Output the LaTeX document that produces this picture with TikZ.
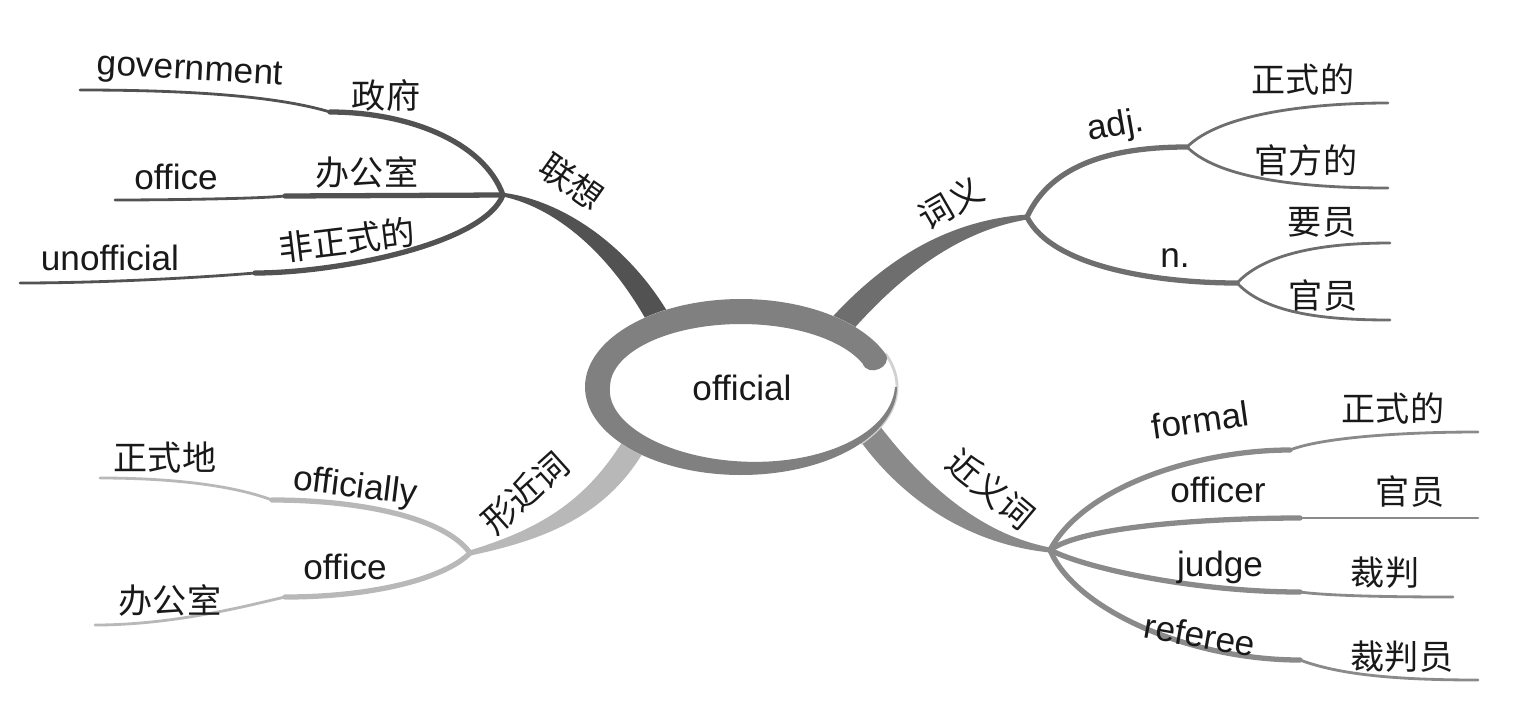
\documentclass[tikz,border=0pt]{standalone}
\usepackage{fontspec}
\setmainfont{Liberation Sans}
\newfontfamily\cjk{Noto Sans CJK SC}
\usepackage{tikz}

\colorlet{assoc}{black!68}
\colorlet{sense}{black!57}
\colorlet{synon}{black!46}
\colorlet{alike}{black!28}
\colorlet{ring}{black!50}

\begin{document}
\begin{tikzpicture}[
    x=0.01cm, y=-0.01cm,
    declare function={bw(\t)=25-23*max(0,\t-180)/180;},
    en/.style={font=\fontsize{10}{12}\selectfont, text=black!90, inner sep=0pt},
    zh/.style={font=\cjk\fontsize{9.7}{11}\selectfont, text=black!90, inner sep=0pt},
    twig/.style={line width=1.5pt, line cap=round},
    tip/.style={line width=0.8pt, line cap=round}
]
\useasboundingbox (0,0) rectangle (1513,700);

% Forks and ends
\coordinate (lxF) at (503,195);
\coordinate (govK) at (330,112);  \coordinate (govE) at (80,90);
\coordinate (offK) at (285,196);  \coordinate (offE) at (115,200);
\coordinate (unoK) at (255,273);  \coordinate (unoE) at (20,283);

\coordinate (cyF) at (1027,217);
\coordinate (adjF) at (1187,147);
\coordinate (adjA) at (1388,103); \coordinate (adjB) at (1388,188);
\coordinate (nF) at (1237,283);
\coordinate (nA) at (1390,243);   \coordinate (nB) at (1390,320);

\coordinate (jyF) at (1050,550);
\coordinate (forK) at (1290,450); \coordinate (forE) at (1478,432);
\coordinate (ofcK) at (1300,518); \coordinate (ofcE) at (1478,518);
\coordinate (jdgK) at (1300,592); \coordinate (jdgE) at (1453,597);
\coordinate (refK) at (1300,660); \coordinate (refE) at (1478,680);

\coordinate (xjF) at (470,553);
\coordinate (oflK) at (272,500);  \coordinate (oflE) at (100,478);
\coordinate (ofbK) at (285,597);  \coordinate (ofbE) at (95,625);

% Trunks
\fill[assoc] (505,193) .. controls (562,201) and (628,244) .. (670,316) -- (650,327) .. controls (612,256) and (558,209) .. (505,197) -- cycle;
\fill[sense] (826,324) .. controls (890,252) and (955,220) .. (1027,214.5) -- (1027,219.5) .. controls (965,230) and (905,268) .. (844,340) -- cycle;
\fill[synon] (876,421) .. controls (928,490) and (985,535) .. (1050,547.5) -- (1050,552.5) .. controls (975,545) and (905,505) .. (856,435) -- cycle;
\fill[alike] (624,439) .. controls (585,503) and (537,530) .. (469,550.6) -- (471,555.4) .. controls (543,540) and (605,517) .. (644,451) -- cycle;

% Centre ring
\fill[white] (741,387) ellipse [x radius=1.56cm, y radius=0.88cm];
\draw[black!18, line width=0.8pt] plot[domain=-40:22, samples=30, smooth] ({741+156*cos(\x)},{387-88*sin(\x)});
\fill[ring] plot[domain=22:360, samples=90, smooth] ({741+156*cos(\x)},{387-88*sin(\x)})
  -- plot[domain=360:22, samples=90, smooth] ({741+(156-bw(\x))*cos(\x)},{387-(88-bw(\x))*sin(\x)})
  .. controls (868,378) and (893,367) .. (885.6,354) -- cycle;
\node[en] (core) at (742,388) {official};

% Association branch
\draw[twig, assoc] (lxF) .. controls +(-20,-55) and +(75,0) .. (govK);
\draw[tip, assoc] (govK) .. controls +(-60,-18) and +(90,0) .. (govE);
\draw[twig, assoc] (lxF) -- (offK);
\draw[tip, assoc] (offK) .. controls +(-30,3) and +(40,0) .. (offE);
\draw[twig, assoc] (lxF) .. controls +(-20,50) and +(80,0) .. (unoK);
\draw[tip, assoc] (unoK) .. controls +(-60,5) and +(80,0) .. (unoE);
\node[zh, rotate=-35] (lxT) at (572,182) {联想};
\node[en, rotate=-3] (govT) at (190,72) {government};
\node[zh] (govZ) at (386,95) {政府};
\node[en] (offT) at (176,177) {office};
\node[zh] (offZ) at (367,172) {办公室};
\node[en] (unoT) at (110,258) {unofficial};
\node[zh, rotate=7] (unoZ) at (347,240) {非正式的};

% Meaning branch
\draw[twig, sense] (cyF) .. controls +(25,-55) and +(-70,0) .. (adjF);
\draw[tip, sense] (adjF) .. controls +(35,-35) and +(-70,0) .. (adjA);
\draw[tip, sense] (adjF) .. controls +(35,35) and +(-70,0) .. (adjB);
\draw[twig, sense] (cyF) .. controls +(25,50) and +(-80,0) .. (nF);
\draw[tip, sense] (nF) .. controls +(30,-32) and +(-60,0) .. (nA);
\draw[tip, sense] (nF) .. controls +(30,32) and +(-60,0) .. (nB);
\node[zh, rotate=30] (cyT) at (951,203) {词义};
\node[en, rotate=10] (adjT) at (1116,127) {adj.};
\node[zh] (adjAZ) at (1303,80) {正式的};
\node[zh] (adjBZ) at (1306,160) {官方的};
\node[en] (nT) at (1175,258) {n.};
\node[zh] (nAZ) at (1322,222) {要员};
\node[zh] (nBZ) at (1323,296) {官员};

% Synonym branch
\draw[twig, synon] (jyF) .. controls +(35,-65) and +(-90,0) .. (forK);
\draw[tip, synon] (forK) .. controls +(30,-12) and +(-80,0) .. (forE);
\draw[twig, synon] (jyF) .. controls +(35,-25) and +(-80,0) .. (ofcK);
\draw[tip, synon] (ofcK) -- (ofcE);
\draw[twig, synon] (jyF) .. controls +(40,20) and +(-100,0) .. (jdgK);
\draw[tip, synon] (jdgK) .. controls +(30,4) and +(-60,0) .. (jdgE);
\draw[twig, synon] (jyF) .. controls +(25,60) and +(-110,0) .. (refK);
\draw[tip, synon] (refK) .. controls +(40,15) and +(-80,0) .. (refE);
\node[zh, rotate=-40] (jyT) at (991,489) {近义词};
\node[en, rotate=8] (forT) at (1200,420) {formal};
\node[zh] (forZ) at (1393,408) {正式的};
\node[en] (ofcT) at (1218,490) {officer};
\node[zh] (ofcZ) at (1410,492) {官员};
\node[en] (jdgT) at (1220,567) {judge};
\node[zh] (jdgZ) at (1385,573) {裁判};
\node[en, rotate=-10] (refT) at (1200,635) {referee};
\node[zh] (refZ) at (1402,657) {裁判员};

% Look-alike branch
\draw[twig, alike] (xjF) .. controls +(-25,-35) and +(90,0) .. (oflK);
\draw[tip, alike] (oflK) .. controls +(-40,-15) and +(70,0) .. (oflE);
\draw[twig, alike] (xjF) .. controls +(-25,25) and +(90,0) .. (ofbK);
\draw[tip, alike] (ofbK) .. controls +(-35,8) and +(80,0) .. (ofbE);
\node[zh, rotate=42] (xjT) at (525,493) {形近词};
\node[en, rotate=-7] (oflT) at (355,488) {officially};
\node[zh] (oflZ) at (165,458) {正式地};
\node[en] (ofbT) at (345,567) {office};
\node[zh] (ofbZ) at (170,600) {办公室};
\end{tikzpicture}
\end{document}
